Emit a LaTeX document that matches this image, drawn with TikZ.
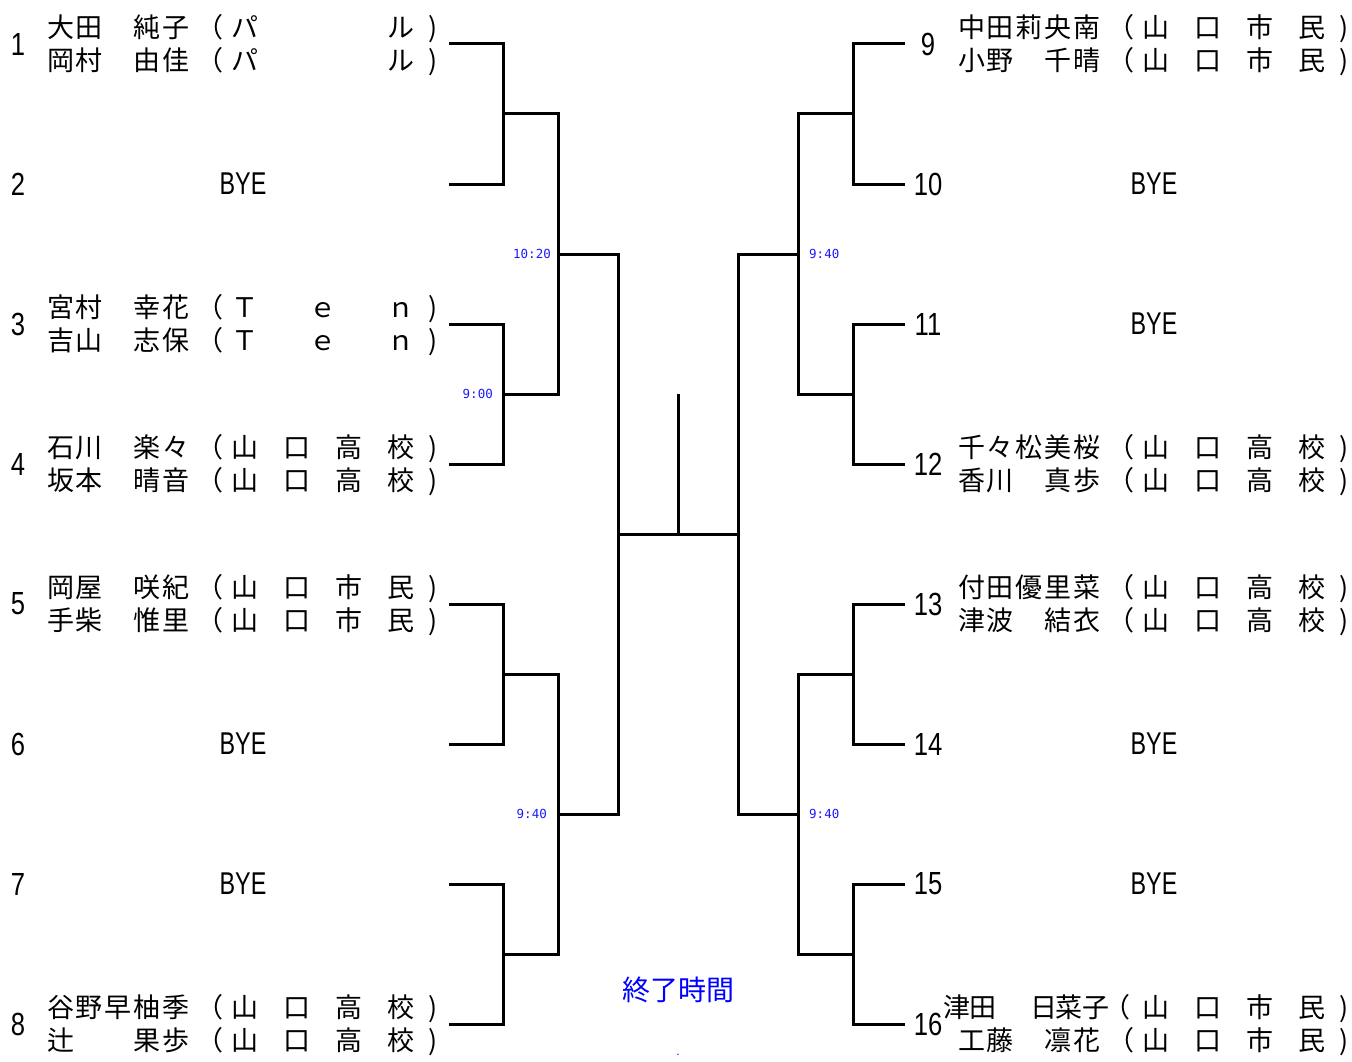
\documentclass[tikz,border=0pt]{standalone}
\usepackage{fontspec}
\setmainfont{Liberation Sans}
\newfontfamily\jpfont{Noto Sans CJK JP}
\newfontfamily\numfont[FakeStretch=0.8]{Liberation Sans}
\newfontfamily\byefont[FakeStretch=0.74]{Liberation Sans}
\newfontfamily\timefont{DejaVu Sans Mono}
\definecolor{tblue}{RGB}{25,25,255}
\newcommand\putc[2]{\rlap{\hspace*{\dimexpr#1pt-14pt\relax}\makebox[28pt]{#2}}}
\newcommand\closep{\rlap{\hspace*{382pt})}}
\newcommand\NameFive[5]{\putc{14.4}{#1}\putc{43.2}{#2}\putc{72}{#3}\putc{100.8}{#4}\putc{129.6}{#5}}
\newcommand\OrgFour[4]{\putc{164}{（}\putc{199}{#1}\putc{251}{#2}\putc{303}{#3}\putc{355}{#4}\closep\hspace*{384pt}}
\newcommand\OrgPal{\putc{164}{（}\putc{199}{パ}\putc{355}{ル}\closep\hspace*{384pt}}
\newcommand\OrgTen{\putc{164}{（}\putc{199}{Ｔ}\putc{277}{ｅ}\putc{355}{ｎ}\closep\hspace*{384pt}}
\tikzset{
  nm/.style={anchor=west, inner sep=0pt, font=\jpfont\fontsize{27}{27}\selectfont, text height=23pt, text depth=4pt},
  num/.style={inner sep=0pt, font=\numfont\fontsize{32}{32}\selectfont},
  bye/.style={inner sep=0pt, font=\byefont\fontsize{31.5}{31.5}\selectfont},
  tm/.style={inner sep=0pt, text=tblue, font=\timefont\fontsize{12.5}{12.5}\selectfont},
  br/.style={line width=3pt, line join=miter},
}
\begin{document}
\begin{tikzpicture}[x=1pt,y=-1pt]
\useasboundingbox (0,0) rectangle (1352,1062);
% ---- coordinates: left
\coordinate (L1) at (449,44);  \coordinate (L2) at (449,184);
\coordinate (L3) at (449,324); \coordinate (L4) at (449,464);
\coordinate (L5) at (449,604); \coordinate (L6) at (449,744);
\coordinate (L7) at (449,884); \coordinate (L8) at (449,1024);
\coordinate (J12) at (503,114); \coordinate (J34) at (503,394);
\coordinate (J56) at (503,674); \coordinate (J78) at (503,954);
\coordinate (Q1) at (558,254); \coordinate (Q2) at (558,814);
\coordinate (S) at (618,534);
\coordinate (C) at (678,534); \coordinate (Ctop) at (678,394);
\coordinate (T) at (738,534);
% ---- coordinates: right
\coordinate (R9) at (905,44);   \coordinate (R10) at (905,184);
\coordinate (R11) at (905,324); \coordinate (R12) at (905,464);
\coordinate (R13) at (905,604); \coordinate (R14) at (905,744);
\coordinate (R15) at (905,884); \coordinate (R16) at (905,1024);
\coordinate (K910) at (853,114); \coordinate (K1112) at (853,394);
\coordinate (K1314) at (853,674); \coordinate (K1516) at (853,954);
\coordinate (Q3) at (798,254); \coordinate (Q4) at (798,814);
% ---- bracket lines
\draw[br] (L1) -| (J12) |- (L2);
\draw[br] (L3) -| (J34) |- (L4);
\draw[br] (L5) -| (J56) |- (L6);
\draw[br] (L7) -| (J78) |- (L8);
\draw[br] (J12) -| (Q1) |- (J34);
\draw[br] (J56) -| (Q2) |- (J78);
\draw[br] (Q1) -| (S) |- (Q2);
\draw[br] (S) -- (T);
\draw[br] (C) -- (Ctop);
\draw[br] (Q3) -| (T) |- (Q4);
\draw[br] (K910) -| (Q3) |- (K1112);
\draw[br] (K1314) -| (Q4) |- (K1516);
\draw[br] (R9) -| (K910) |- (R10);
\draw[br] (R11) -| (K1112) |- (R12);
\draw[br] (R13) -| (K1314) |- (R14);
\draw[br] (R15) -| (K1516) |- (R16);
% ---- time labels
\node[tm, anchor=east] (t1) at (551,254) {10:20};
\node[tm, anchor=east] (t2) at (493,394) {9:00};
\node[tm, anchor=east] (t3) at (547,814) {9:40};
\node[tm, anchor=west] (t4) at (809,254) {9:40};
\node[tm, anchor=west] (t5) at (809,814) {9:40};
% ---- seed numbers
\node[num] (s1) at (18,44) {1};
\node[num] (s2) at (18,184) {2};
\node[num] (s3) at (18,324) {3};
\node[num] (s4) at (18,464) {4};
\node[num] (s5) at (18,604) {5};
\node[num] (s6) at (18,744) {6};
\node[num] (s7) at (18,884) {7};
\node[num] (s8) at (18,1024) {8};
\node[num] (s9) at (928,44) {9};
\node[num] (s10) at (928,184) {10};
\node[num] (s11) at (928,324) {11};
\node[num] (s12) at (928,464) {12};
\node[num] (s13) at (928,604) {13};
\node[num] (s14) at (928,744) {14};
\node[num] (s15) at (928,884) {15};
\node[num] (s16) at (928,1024) {16};
% ---- BYE
\node[bye] (b2) at (243,184) {BYE};
\node[bye] (b6) at (243,744) {BYE};
\node[bye] (b7) at (243,884) {BYE};
\node[bye] (b10) at (1154,184) {BYE};
\node[bye] (b11) at (1154,324) {BYE};
\node[bye] (b14) at (1154,744) {BYE};
\node[bye] (b15) at (1154,884) {BYE};
% ---- names left
\node[nm] (n1a) at (46,28) {\NameFive{大}{田}{}{純}{子}\OrgPal};
\node[nm] (n1b) at (46,61) {\NameFive{岡}{村}{}{由}{佳}\OrgPal};
\node[nm] (n3a) at (46,308) {\NameFive{宮}{村}{}{幸}{花}\OrgTen};
\node[nm] (n3b) at (46,341) {\NameFive{吉}{山}{}{志}{保}\OrgTen};
\node[nm] (n4a) at (46,448) {\NameFive{石}{川}{}{楽}{々}\OrgFour{山}{口}{高}{校}};
\node[nm] (n4b) at (46,481) {\NameFive{坂}{本}{}{晴}{音}\OrgFour{山}{口}{高}{校}};
\node[nm] (n5a) at (46,588) {\NameFive{岡}{屋}{}{咲}{紀}\OrgFour{山}{口}{市}{民}};
\node[nm] (n5b) at (46,621) {\NameFive{手}{柴}{}{惟}{里}\OrgFour{山}{口}{市}{民}};
\node[nm] (n8a) at (46,1008) {\NameFive{谷}{野}{早}{柚}{季}\OrgFour{山}{口}{高}{校}};
\node[nm] (n8b) at (46,1041) {\NameFive{辻}{}{}{果}{歩}\OrgFour{山}{口}{高}{校}};
% ---- names right
\node[nm] (n9a) at (957,28) {\NameFive{中}{田}{莉}{央}{南}\OrgFour{山}{口}{市}{民}};
\node[nm] (n9b) at (957,61) {\NameFive{小}{野}{}{千}{晴}\OrgFour{山}{口}{市}{民}};
\node[nm] (n12a) at (957,448) {\NameFive{千}{々}{松}{美}{桜}\OrgFour{山}{口}{高}{校}};
\node[nm] (n12b) at (957,481) {\NameFive{香}{川}{}{真}{歩}\OrgFour{山}{口}{高}{校}};
\node[nm] (n13a) at (957,588) {\NameFive{付}{田}{優}{里}{菜}\OrgFour{山}{口}{高}{校}};
\node[nm] (n13b) at (957,621) {\NameFive{津}{波}{}{結}{衣}\OrgFour{山}{口}{高}{校}};
\node[nm] (n16a) at (957,1008) {\putc{0}{津}\putc{26}{田}\putc{87}{日}\putc{112}{菜}\putc{139}{子}\putc{160}{（}\putc{199}{山}\putc{251}{口}\putc{303}{市}\putc{355}{民}\closep\hspace*{384pt}};
\node[nm] (n16b) at (957,1041) {\NameFive{工}{藤}{}{凛}{花}\OrgFour{山}{口}{市}{民}};
% ---- footer
\node[inner sep=0pt, text=blue, font=\jpfont\fontsize{28}{28}\selectfont] (end) at (678,990) {終了時間};
\node[inner sep=0pt, text=blue, font=\fontsize{12}{12}\selectfont] (dot) at (678,1055) {.};
\end{tikzpicture}
\end{document}
